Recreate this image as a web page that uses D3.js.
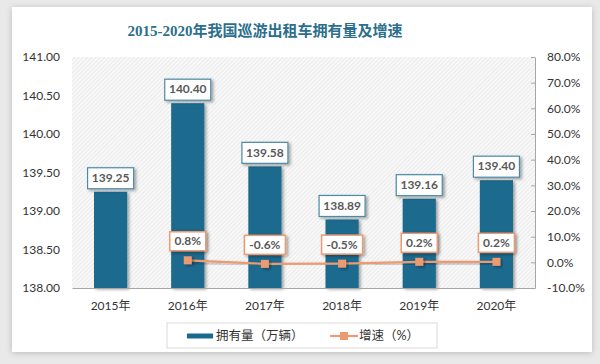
<!DOCTYPE html>
<html>
<head>
<meta charset="utf-8">
<script src="https://cdn.jsdelivr.net/npm/d3@7"></script>
<style>
  body { margin: 0; background: #e9e9e9; }
  svg { display: block; }
</style>
</head>
<body>
<svg id="chart" width="600" height="364"></svg>
<script>
const years = ["2015年", "2016年", "2017年", "2018年", "2019年", "2020年"];
const fleet = [139.25, 140.40, 139.58, 138.89, 139.16, 139.40];
const growth = [null, 0.8, -0.6, -0.5, 0.2, 0.2];
const leftTicks = [138, 138.5, 139, 139.5, 140, 140.5, 141];
const rightTicks = [-10, 0, 10, 20, 30, 40, 50, 60, 70, 80];

const TEAL = "#1b6a8e", ORANGE = "#eb9a72";
const FONT = "Lato, 'Noto Sans CJK SC', sans-serif";

const svg = d3.select("#chart");
const defs = svg.append("defs");

const shadow = defs.append("filter").attr("id", "shadow")
  .attr("x", "-30%").attr("y", "-30%").attr("width", "160%").attr("height", "160%");
shadow.append("feDropShadow").attr("dx", 2).attr("dy", 1.5)
  .attr("stdDeviation", 1.5).attr("flood-color", "#000").attr("flood-opacity", 0.35);

const cardShadow = defs.append("filter").attr("id", "cardShadow")
  .attr("x", "-5%").attr("y", "-5%").attr("width", "110%").attr("height", "110%");
cardShadow.append("feDropShadow").attr("dx", 0).attr("dy", 1)
  .attr("stdDeviation", 3).attr("flood-color", "#000").attr("flood-opacity", 0.2);

const hatch = defs.append("pattern").attr("id", "hatch")
  .attr("width", 3).attr("height", 3)
  .attr("patternUnits", "userSpaceOnUse")
  .attr("patternTransform", "rotate(45)");
hatch.append("rect").attr("width", 3).attr("height", 3).attr("fill", "#f8f8f8");
hatch.append("line").attr("x1", 0).attr("y1", 0).attr("x2", 0).attr("y2", 3)
  .attr("stroke", "#dedede").attr("stroke-width", 1);

// card
svg.append("rect").attr("x", 12).attr("y", 7).attr("width", 580).attr("height", 345)
  .attr("fill", "#fff").attr("filter", "url(#cardShadow)");

// title
svg.append("text").attr("x", 265).attr("y", 36)
  .attr("text-anchor", "middle")
  .attr("font-family", "'Liberation Serif', 'Noto Sans CJK SC', serif")
  .attr("font-weight", "bold").attr("font-size", 15)
  .attr("fill", "#2c6f8c")
  .text("2015-2020年我国巡游出租车拥有量及增速");

const plotLeft = 72, plotRight = 535, plotTop = 57, plotBottom = 288;

const x = d3.scaleBand().domain(years).range([plotLeft, plotRight]).paddingInner(0.57).paddingOuter(0.285);
const y = d3.scaleLinear().domain([138, 141]).range([plotBottom, plotTop]);
const y2 = d3.scaleLinear().domain([-10, 80]).range([plotBottom, plotTop]);

svg.append("rect").attr("x", plotLeft).attr("y", plotTop)
  .attr("width", plotRight - plotLeft).attr("height", plotBottom - plotTop)
  .attr("fill", "url(#hatch)");

// left axis
const yAxis = svg.append("g").attr("transform", `translate(${plotLeft},0)`)
  .call(d3.axisLeft(y).tickValues(leftTicks).tickFormat(d3.format(".2f")).tickSize(0).tickPadding(12));
yAxis.select(".domain").remove();
yAxis.selectAll("text").attr("font-family", FONT).attr("font-size", 12).attr("fill", "#333");

// right axis
const y2Axis = svg.append("g").attr("transform", `translate(${plotRight},0)`)
  .call(d3.axisRight(y2).tickValues(rightTicks).tickFormat(d => d.toFixed(1) + "%").tickSizeInner(-4).tickSizeOuter(0).tickPadding(12));
y2Axis.select(".domain").attr("stroke", "#a6a6a6");
y2Axis.selectAll(".tick line").attr("stroke", "#a6a6a6");
y2Axis.selectAll("text").attr("font-family", FONT).attr("font-size", 12).attr("fill", "#333");

// bars
svg.append("g").selectAll("rect").data(fleet).join("rect")
  .attr("x", (d, i) => x(years[i]))
  .attr("y", d => y(d))
  .attr("width", x.bandwidth())
  .attr("height", d => plotBottom - y(d))
  .attr("fill", TEAL)
  .attr("filter", "url(#shadow)");

// x axis
const xAxis = svg.append("g").attr("transform", `translate(0,${plotBottom})`)
  .call(d3.axisBottom(x).tickSize(0).tickPadding(13));
xAxis.select(".domain").attr("stroke", "#a6a6a6");
xAxis.selectAll("text").attr("font-family", FONT).attr("font-size", 12).attr("fill", "#333");

// bar labels
const barLabels = svg.append("g").selectAll("g").data(fleet).join("g")
  .attr("transform", (d, i) => `translate(${x(years[i]) + x.bandwidth() / 2},${y(d) - 14})`);
barLabels.append("rect").attr("x", -23).attr("y", -10).attr("width", 46).attr("height", 21)
  .attr("fill", "#fff").attr("stroke", "#4d8aa5").attr("stroke-width", 1.2)
  .attr("filter", "url(#shadow)");
barLabels.append("text").attr("text-anchor", "middle").attr("dy", "0.35em")
  .attr("font-family", FONT).attr("font-weight", "bold").attr("font-size", 12)
  .attr("fill", "#595959").text(d => d.toFixed(2));

// growth line
const pts = growth.map((g, i) => ({ year: years[i], g })).filter(d => d.g !== null);
const line = d3.line()
  .x(d => x(d.year) + x.bandwidth() / 2)
  .y(d => y2(d.g));

svg.append("path").attr("d", line(pts))
  .attr("fill", "none").attr("stroke", ORANGE).attr("stroke-width", 2.2)
  .attr("filter", "url(#shadow)");

svg.append("g").selectAll("rect").data(pts).join("rect")
  .attr("x", d => x(d.year) + x.bandwidth() / 2 - 4)
  .attr("y", d => y2(d.g) - 4)
  .attr("width", 8).attr("height", 8)
  .attr("fill", ORANGE).attr("filter", "url(#shadow)");

const growthLabels = svg.append("g").selectAll("g").data(pts).join("g")
  .attr("transform", d => `translate(${x(d.year) + x.bandwidth() / 2},${y2(d.g) - 19})`);
growthLabels.append("rect")
  .attr("x", d => d.g < 0 ? -20.5 : -18).attr("y", -9.5)
  .attr("width", d => d.g < 0 ? 41 : 36).attr("height", 19)
  .attr("fill", "#fff").attr("stroke", ORANGE).attr("stroke-width", 1.5)
  .attr("filter", "url(#shadow)");
growthLabels.append("text").attr("text-anchor", "middle").attr("dy", "0.35em")
  .attr("font-family", FONT).attr("font-weight", "bold").attr("font-size", 12)
  .attr("fill", "#595959").text(d => d.g.toFixed(1) + "%");

// legend
const legend = svg.append("g");
legend.append("rect").attr("x", 167).attr("y", 323).attr("width", 270).attr("height", 25)
  .attr("fill", "#fff").attr("stroke", "#d9d9d9");
legend.append("line").attr("x1", 187).attr("x2", 213).attr("y1", 336).attr("y2", 336)
  .attr("stroke", TEAL).attr("stroke-width", 5);
legend.append("text").attr("x", 216).attr("y", 336).attr("dy", "0.35em")
  .attr("font-family", FONT).attr("font-size", 12.5).attr("fill", "#333")
  .text("拥有量（万辆）");
legend.append("line").attr("x1", 330).attr("x2", 358).attr("y1", 336).attr("y2", 336)
  .attr("stroke", ORANGE).attr("stroke-width", 2.2);
legend.append("rect").attr("x", 340).attr("y", 332).attr("width", 8).attr("height", 8)
  .attr("fill", ORANGE);
legend.append("text").attr("x", 359).attr("y", 336).attr("dy", "0.35em")
  .attr("font-family", FONT).attr("font-size", 12.5).attr("fill", "#333")
  .text("增速（%）");
</script>
</body>
</html>
